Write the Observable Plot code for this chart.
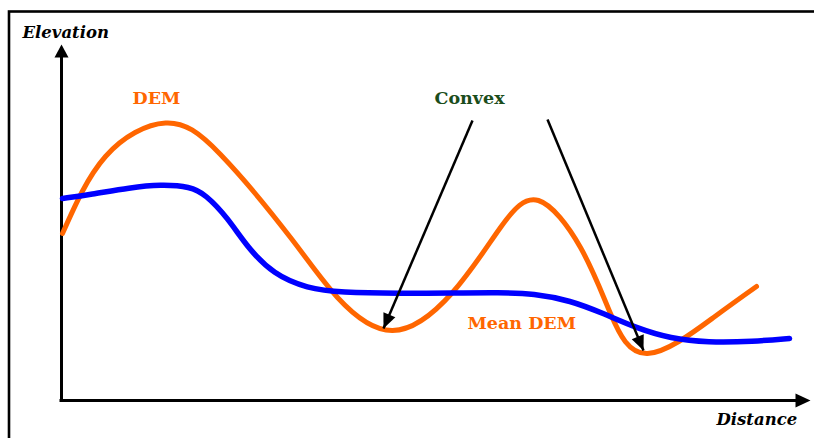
<!DOCTYPE html>
<html>
<head>
<meta charset="utf-8">
<script src="https://cdn.jsdelivr.net/npm/d3@7"></script>
<script src="https://cdn.jsdelivr.net/npm/@observablehq/plot@0.6"></script>
<style>
  html, body { margin: 0; padding: 0; background: #fff; }
  svg { display: block; }
</style>
</head>
<body>
<div id="chart"></div>
<script>
// DEM profile (orange): distance, elevation (arbitrary units)
const demDistance = [1, 44, 104, 159, 229, 276, 331, 391, 439, 477, 519, 549, 586, 652, 695];
const demElevation = [167, 244, 277.5, 246, 163, 103, 70, 108, 173, 200, 153, 87, 47, 83, 114];

// Mean DEM profile (blue)
const meanDistance = [1, 29, 69, 99, 129, 144, 166, 186, 212, 246, 279, 339, 389, 439, 472, 509, 542, 576, 609, 646, 692, 728];
const meanElevation = [202, 206, 213, 216, 214, 206, 183, 153, 126, 112, 108, 107, 107.5, 108, 107, 100, 87, 72, 62, 58, 59, 62];

// Axis extents
const axisMaxDistance = 749;
const axisMaxElevation = 356;

// "Convex" pointer arrows: from label to concave minima
const pointerFromX = [411, 486];
const pointerFromY = [280, 281];
const pointerToX = [322, 582];
const pointerToY = [72, 50];

// Text labels
const labelText = ["Elevation", "Distance", "DEM", "Mean DEM", "Convex"];
const labelX = [-39, 655, 71, 406, 373];
const labelY = [362.5, -24, 297, 71.5, 296.5];

const dem = demDistance.map((d, i) => ({d, e: demElevation[i]}));
const mean = meanDistance.map((d, i) => ({d, e: meanElevation[i]}));
const pointers = pointerFromX.map((x, i) => ({x1: x, y1: pointerFromY[i], x2: pointerToX[i], y2: pointerToY[i]}));
const labels = labelText.map((t, i) => ({t, x: labelX[i], y: labelY[i]}));

// filled triangular arrowhead symbol with tip at origin, pointing at angle (radians, screen coords)
function head(angle, len, half) {
  return {
    draw(ctx) {
      const c = Math.cos(angle), s = Math.sin(angle);
      const bx = -len * c, by = -len * s;
      ctx.moveTo(0, 0);
      ctx.lineTo(bx - half * s, by + half * c);
      ctx.lineTo(bx + half * s, by - half * c);
      ctx.closePath();
    }
  };
}

const font = "'DejaVu Serif', serif";

const chart = Plot.plot({
  width: 814,
  height: 438,
  margin: 0,
  x: {type: "linear", domain: [-61, 753], range: [0, 814], axis: null},
  y: {type: "linear", domain: [-38, 400], range: [438, 0], axis: null},
  marks: [
    Plot.frame({stroke: "black", strokeWidth: 2.6, insetLeft: 8.5, insetTop: 11, insetRight: -10, insetBottom: -10}),
    // axes
    Plot.ruleX([0], {y1: 0, y2: axisMaxElevation - 8, stroke: "black", strokeWidth: 3}),
    Plot.ruleY([0], {x1: -1.5, x2: axisMaxDistance - 8, stroke: "black", strokeWidth: 3}),
    Plot.dot([{x: 0, y: axisMaxElevation}], {x: "x", y: "y", symbol: head(-Math.PI / 2, 13, 7), fill: "black", stroke: null}),
    Plot.dot([{x: axisMaxDistance, y: 0}], {x: "x", y: "y", symbol: head(0, 15, 7), fill: "black", stroke: null}),
    // curves
    Plot.line(dem, {x: "d", y: "e", curve: "natural", stroke: "#FF6600", strokeWidth: 5, strokeLinecap: "round"}),
    Plot.line(mean, {x: "d", y: "e", curve: "basis", stroke: "#0000FF", strokeWidth: 5.5, strokeLinecap: "round"}),
    // pointer arrows
    Plot.link(pointers, {x1: "x1", y1: "y1", x2: "x2", y2: "y2", stroke: "black", strokeWidth: 2.5}),
    ...pointers.map(p => Plot.dot([p], {
      x: "x2", y: "y2", fill: "black", stroke: null,
      symbol: head(Math.atan2(-(p.y2 - p.y1), p.x2 - p.x1), 15, 6.5)
    })),
    // labels
    Plot.text(labels.slice(0, 2), {x: "x", y: "y", text: "t", textAnchor: "start", lineAnchor: "bottom",
      fontFamily: font, fontWeight: "bold", fontStyle: "italic", fontSize: 16.5, fill: "black"}),
    Plot.text(labels.slice(2, 4), {x: "x", y: "y", text: "t", textAnchor: "start", lineAnchor: "bottom",
      fontFamily: font, fontWeight: "bold", fontSize: 17.5, fill: "#FF6600"}),
    Plot.text(labels.slice(4), {x: "x", y: "y", text: "t", textAnchor: "start", lineAnchor: "bottom",
      fontFamily: font, fontWeight: "bold", fontSize: 17.5, fill: "#1B4D1B"})
  ]
});
document.getElementById("chart").appendChild(chart);
</script>
</body>
</html>
